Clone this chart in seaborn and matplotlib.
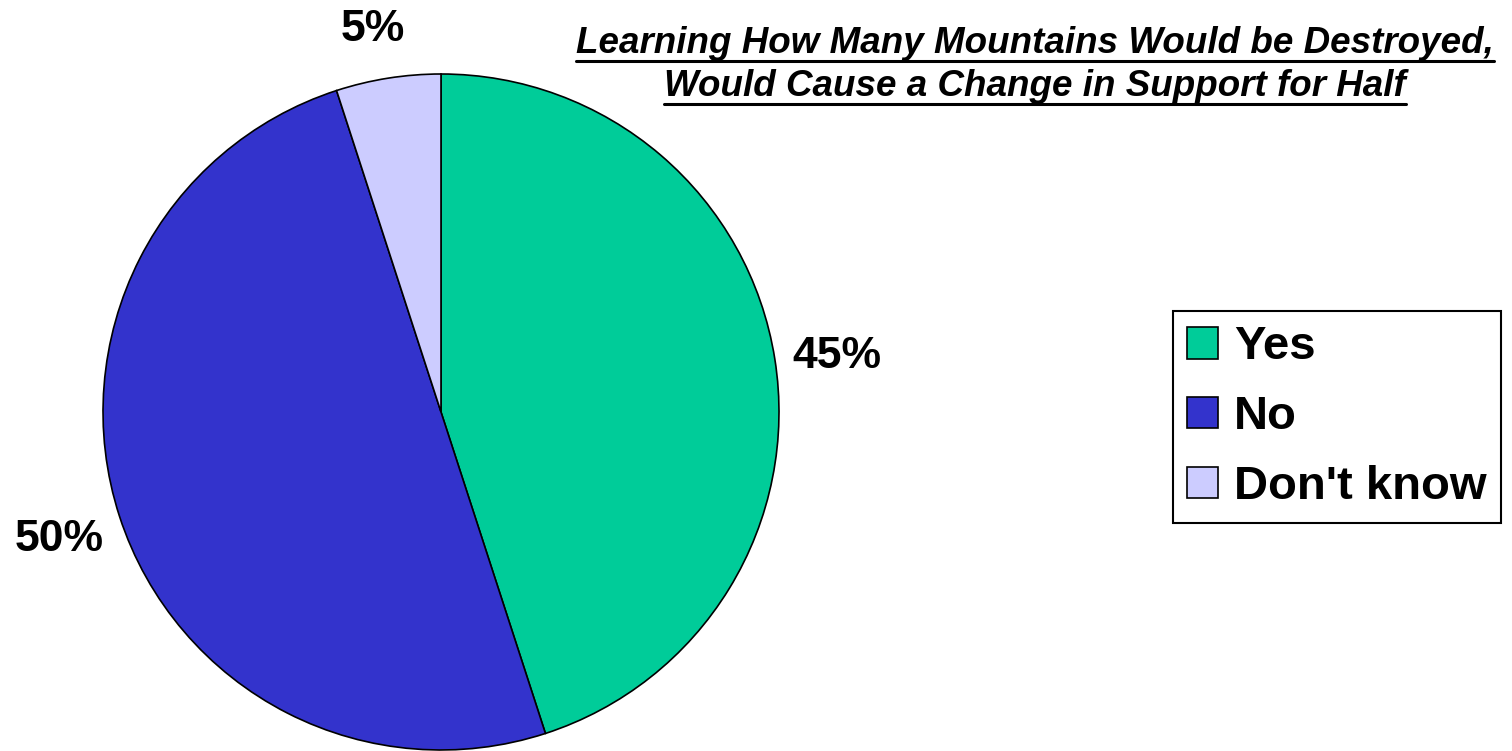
import matplotlib
matplotlib.use("Agg")
import matplotlib.pyplot as plt
import seaborn as sns
from matplotlib.lines import Line2D

categories = ["Yes", "No", "Don't know"]
values = [45, 50, 5]
labels = ["45%", "50%", "5%"]
colors = ["#00CC99", "#3333CC", "#CCCCFF"]
title_lines = ["Learning How Many Mountains Would be Destroyed,",
               "Would Cause a Change in Support for Half"]

sns.set_theme(style="white")
plt.rcParams['font.family'] = ['Liberation Sans', 'DejaVu Sans']
plt.rcParams['text.color'] = 'black'

W, H = 1512, 751
fig = plt.figure(figsize=(W / 100, H / 100), dpi=100)
fig.patch.set_facecolor("white")

cx, cy, r = 441, 412, 338
ax = fig.add_axes([(cx - r) / W, (H - cy - r) / H, 2 * r / W, 2 * r / H])
wedges, _ = ax.pie(values, colors=colors, startangle=90, counterclock=False,
                   radius=1, wedgeprops=dict(edgecolor="black", linewidth=1.2))
ax.set_xlim(-1, 1)
ax.set_ylim(-1, 1)
ax.set_aspect("equal")
ax.axis("off")

label_pos = [(1.17, 0.177), (-1.13, -0.364), (-0.201, 1.145)]
for lab, (x, y) in zip(labels, label_pos):
    ax.text(x, y, lab, ha="center", va="center_baseline", fontsize=32,
            fontweight="bold", color="black", clip_on=False)

# Title (bold italic underlined)
ty = [53, 96]
texts = []
for line, y in zip(title_lines, ty):
    t = fig.text(1035 / W, 1 - y / H, line, ha="center", va="baseline",
                 fontsize=26.5, fontweight="bold", fontstyle="italic",
                 color="black")
    texts.append(t)
fig.canvas.draw()
renderer = fig.canvas.get_renderer()
for t, y in zip(texts, ty):
    bb = t.get_window_extent(renderer)
    yline = H - (y + 8)
    fig.add_artist(Line2D([bb.x0 / W, bb.x1 / W], [yline / H, yline / H],
                          color="black", linewidth=2.2, transform=fig.transFigure))

leg = fig.legend(wedges, categories, loc="upper left",
                 bbox_to_anchor=(1173 / W, 1 - 311 / H),
                 prop=dict(weight="bold", size=34),
                 frameon=True, fancybox=False, shadow=False, framealpha=1,
                 handlelength=0.66, handleheight=0.66, handletextpad=0.33,
                 labelspacing=0.55, borderpad=0.3, borderaxespad=0)
leg.get_frame().set_edgecolor("black")
leg.get_frame().set_linewidth(1.5)
for txt in leg.get_texts():
    txt.set_color("black")

fig.savefig("out.png", dpi=100, facecolor="white")
